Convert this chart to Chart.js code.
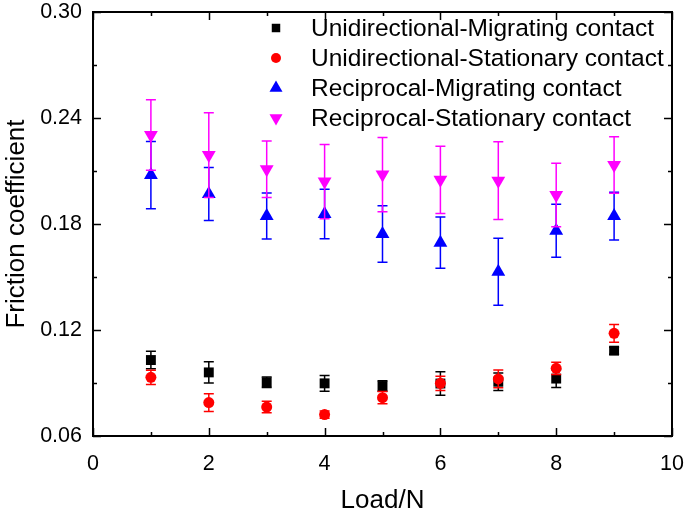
<!DOCTYPE html>
<html>
<head>
<meta charset="utf-8">
<script src="https://cdn.jsdelivr.net/npm/chart.js@4/dist/chart.umd.min.js"></script>
<style>
  html, body { margin: 0; padding: 0; background: #fff; }
  #wrap { width: 685px; height: 514px; }
</style>
</head>
<body>
<div id="wrap"><canvas id="frictionChart"></canvas></div>
<script>
// Data
const loads = [1, 2, 3, 4, 5, 6, 7, 8, 9];

const uniMig = [0.103, 0.096, 0.0904, 0.0898, 0.0883, 0.0897, 0.0907, 0.0925, 0.1083];
const uniMigErr = [0.005, 0.006, 0.003, 0.0045, 0.003, 0.0067, 0.005, 0.005, 0.002];

const uniSta = [0.0932, 0.0789, 0.0764, 0.0721, 0.0817, 0.0898, 0.0923, 0.0983, 0.1181];
const uniStaErr = [0.004, 0.005, 0.0033, 0.002, 0.0035, 0.004, 0.005, 0.0035, 0.005];

const recMig = [0.2077, 0.197, 0.1845, 0.1857, 0.1743, 0.1694, 0.153, 0.1762, 0.1845];
const recMigErr = [0.019, 0.015, 0.013, 0.014, 0.016, 0.0145, 0.019, 0.015, 0.0135];

const recSta = [0.2304, 0.219, 0.211, 0.204, 0.208, 0.205, 0.2045, 0.1964, 0.2134];
const recStaErr = [0.020, 0.024, 0.016, 0.021, 0.021, 0.019, 0.022, 0.018, 0.016];

const seriesNames = [
  'Unidirectional-Migrating contact',
  'Unidirectional-Stationary contact',
  'Reciprocal-Migrating contact',
  'Reciprocal-Stationary contact'
];

const xTicks = [0, 2, 4, 6, 8, 10];
const yTicks = [0.06, 0.12, 0.18, 0.24, 0.30];

const FONT = '"Liberation Sans", Arial, sans-serif';

function pts(vals) {
  return loads.map((x, i) => ({ x: x, y: vals[i] }));
}

// little marker drawer for the legend
function drawMarker(ctx, style, x, y, r, color) {
  ctx.save();
  ctx.fillStyle = color;
  ctx.beginPath();
  if (style === 'rect') {
    const s = r * Math.SQRT1_2;
    ctx.rect(x - s, y - s, 2 * s, 2 * s);
  } else if (style === 'circle') {
    ctx.arc(x, y, r, 0, Math.PI * 2);
  } else if (style === 'up') {
    ctx.moveTo(x, y - r);
    ctx.lineTo(x + r * 0.866, y + r * 0.5);
    ctx.lineTo(x - r * 0.866, y + r * 0.5);
  } else {
    ctx.moveTo(x, y + r);
    ctx.lineTo(x + r * 0.866, y - r * 0.5);
    ctx.lineTo(x - r * 0.866, y - r * 0.5);
  }
  ctx.closePath();
  ctx.fill();
  ctx.restore();
}

// error bars, drawn right after each dataset
const errorBars = {
  id: 'errorBars',
  afterDatasetDraw(chart, args) {
    const ds = chart.data.datasets[args.index];
    if (!ds.err) return;
    const ctx = chart.ctx;
    const y = chart.scales.y;
    ctx.save();
    ctx.strokeStyle = ds.backgroundColor;
    ctx.lineWidth = 1.5;
    args.meta.data.forEach((p, j) => {
      const v = ds.data[j].y, e = ds.err[j];
      const top = y.getPixelForValue(v + e);
      const bot = y.getPixelForValue(v - e);
      ctx.beginPath();
      ctx.moveTo(p.x, top); ctx.lineTo(p.x, bot);
      ctx.moveTo(p.x - 5, top); ctx.lineTo(p.x + 5, top);
      ctx.moveTo(p.x - 5, bot); ctx.lineTo(p.x + 5, bot);
      ctx.stroke();
    });
    ctx.restore();
  }
};

// box frame with inward ticks on all four sides
const frame = {
  id: 'frame',
  afterDraw(chart) {
    const ctx = chart.ctx;
    const a = chart.chartArea;
    const xs = chart.scales.x, ys = chart.scales.y;
    ctx.save();
    ctx.strokeStyle = '#000';
    ctx.lineWidth = 1.5;
    ctx.beginPath();
    for (let v = 0; v <= 10; v += 1) {
      const px = Math.round(xs.getPixelForValue(v)) + 0.5;
      const len = v % 2 === 0 ? 8 : 4;
      ctx.moveTo(px, a.bottom); ctx.lineTo(px, a.bottom - len);
      ctx.moveTo(px, a.top); ctx.lineTo(px, a.top + len);
    }
    for (let k = 0; k <= 8; k++) {
      const v = 0.06 + k * 0.03;
      const py = Math.round(ys.getPixelForValue(v)) + 0.5;
      const len = k % 2 === 0 ? 8 : 4;
      ctx.moveTo(a.left, py); ctx.lineTo(a.left + len, py);
      ctx.moveTo(a.right, py); ctx.lineTo(a.right - len, py);
    }
    ctx.stroke();
    ctx.lineWidth = 2;
    ctx.strokeRect(a.left, a.top, a.right - a.left, a.bottom - a.top);

    // legend in the top right of the plot
    const styles = ['rect', 'circle', 'up', 'down'];
    const radii = [6, 5, 7.5, 7.5];
    const rowY = [28, 58, 88, 118];
    chart.data.datasets.forEach((ds, i) => {
      drawMarker(ctx, styles[i], 276, rowY[i], radii[i], ds.backgroundColor);
      ctx.fillStyle = '#000';
      ctx.font = '24.5px ' + FONT;
      ctx.textBaseline = 'middle';
      ctx.textAlign = 'left';
      ctx.fillText(seriesNames[i], 311, rowY[i] + 1);
    });
    ctx.restore();
  }
};

const ctx = document.getElementById('frictionChart').getContext('2d');

new Chart(ctx, {
  type: 'scatter',
  data: {
    datasets: [
      { label: seriesNames[0], data: pts(uniMig), err: uniMigErr, backgroundColor: '#000000', borderColor: '#000000',
        pointStyle: 'rect', pointRadius: 7, order: 4 },
      { label: seriesNames[1], data: pts(uniSta), err: uniStaErr, backgroundColor: '#ff0000', borderColor: '#ff0000',
        pointStyle: 'circle', pointRadius: 5.5, order: 3 },
      { label: seriesNames[2], data: pts(recMig), err: recMigErr, backgroundColor: '#0000ff', borderColor: '#0000ff',
        pointStyle: 'triangle', pointRadius: 8, order: 2 },
      { label: seriesNames[3], data: pts(recSta), err: recStaErr, backgroundColor: '#ff00ff', borderColor: '#ff00ff',
        pointStyle: 'triangle', rotation: 180, pointRadius: 8, order: 1 }
    ]
  },
  options: {
    responsive: true,
    maintainAspectRatio: false,
    animation: false,
    layout: { padding: { top: 12, right: 13, left: 0, bottom: 0 } },
    plugins: {
      legend: { display: false },
      tooltip: { enabled: false }
    },
    elements: { point: { borderWidth: 0, hoverRadius: 0 } },
    scales: {
      x: {
        type: 'linear',
        min: 0,
        max: 10,
        afterBuildTicks: (s) => { s.ticks = xTicks.map(v => ({ value: v })); },
        afterFit: (s) => { s.height = 78; s.paddingLeft = 0; s.paddingRight = 0; },
        grid: { display: false, drawTicks: false },
        border: { display: false },
        ticks: { color: '#000', padding: 15, font: { family: FONT, size: 21.5 } },
        title: { display: true, text: 'Load/N', color: '#000', padding: 0,
          font: { family: FONT, size: 26, lineHeight: 1 } }
      },
      y: {
        type: 'linear',
        min: 0.06,
        max: 0.30,
        afterBuildTicks: (s) => { s.ticks = yTicks.map(v => ({ value: v })); },
        afterFit: (s) => { s.width = 93; s.paddingTop = 0; s.paddingBottom = 0; },
        grid: { display: false, drawTicks: false },
        border: { display: false },
        ticks: { color: '#000', padding: 11, font: { family: FONT, size: 21.5 },
          callback: (v) => Number(v).toFixed(2) },
        title: { display: true, text: 'Friction coefficient', color: '#000', padding: 4,
          font: { family: FONT, size: 26, lineHeight: 1 } }
      }
    }
  },
  plugins: [errorBars, frame]
});
</script>
</body>
</html>
